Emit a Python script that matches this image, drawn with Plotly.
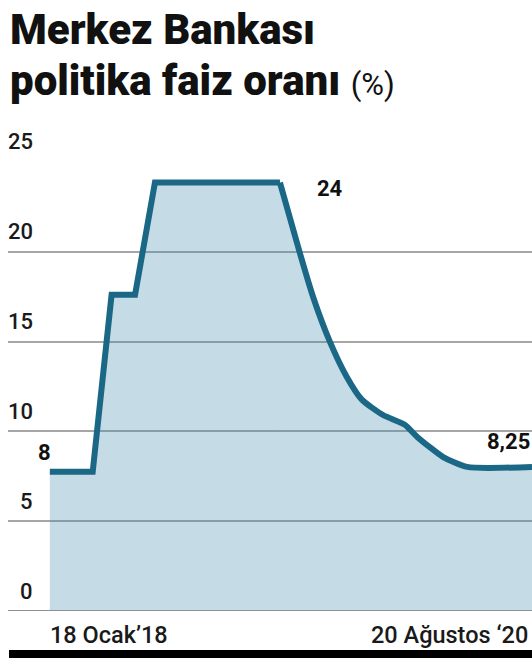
import plotly.graph_objects as go

# Data
dates = ["2018-01-18", "2018-04-12", "2018-05-19", "2018-07-04", "2018-08-12",
         "2019-04-14", "2019-05-23", "2019-06-18", "2019-07-21", "2019-08-23",
         "2019-09-22", "2019-11-02", "2019-12-15", "2020-01-08", "2020-02-28",
         "2020-04-15", "2020-08-20"]
rates = [7.75, 7.75, 17.6, 17.6, 23.85,
         23.85, 19.93, 17.48, 14.98, 13.03,
         11.75, 10.91, 10.36, 9.69, 8.57,
         8.02, 8.02]
y_ticks = [0, 5, 10, 15, 20, 25]
y_tick_labels = ["0", "5", "10", "15", "20", "25"]
x_labels = ["18 Ocak\u201918", "20 A\u011fustos \u201820"]
title_lines = ["Merkez Bankas\u0131", "politika faiz oran\u0131"]
unit = "(%)"
value_labels = ["8", "24", "8,25"]

W, H = 532, 660
L, R, T, B = 8, 0, 161, 49
PH = H - T - B
PW = W - L - R


def py(p):
    return (H - B - p) / PH


def px(p):
    return (p - L) / PW


LINE = "#1a6886"
FILL = "rgba(62,138,172,0.3)"
GRID = "#a6a6a6"

SPLIT = 5  # stepped part (straight) then the smooth decline

fig = go.Figure()
fig.add_trace(go.Scatter(
    x=dates[:SPLIT + 1], y=rates[:SPLIT + 1], mode="lines",
    line=dict(color=LINE, width=6, shape="linear"),
    fill="tozeroy", fillcolor=FILL,
    hoverinfo="skip", showlegend=False,
))
fig.add_trace(go.Scatter(
    x=dates[SPLIT:], y=rates[SPLIT:], mode="lines",
    line=dict(color=LINE, width=6, shape="spline", smoothing=0.6),
    fill="tozeroy", fillcolor=FILL,
    hoverinfo="skip", showlegend=False,
))

annotations = []
# title
annotations.append(dict(
    text=title_lines[0], xref="paper", yref="paper", x=px(8), y=py(29),
    xanchor="left", yanchor="middle", showarrow=False,
    font=dict(family="Roboto", size=42, color="#111111", weight=900)))
annotations.append(dict(
    text=title_lines[1] + " <span style='font-size:31px;font-weight:400'>" + unit + "</span>",
    xref="paper", yref="paper", x=px(8), y=py(80),
    xanchor="left", yanchor="middle", showarrow=False,
    font=dict(family="Roboto", size=42, color="#111111", weight=900)))

# y tick labels above gridlines
for v, lab in zip(y_ticks, y_tick_labels):
    annotations.append(dict(
        text=lab, xref="paper", yref="y", x=px(35), y=v,
        xanchor="right", yanchor="middle", yshift=20, showarrow=False,
        font=dict(family="Roboto", size=22, color="#1a1a1a", weight=500)))

# x labels
annotations.append(dict(
    text=x_labels[0], xref="paper", yref="paper", x=px(48), y=py(635),
    xanchor="left", yanchor="middle", showarrow=False,
    font=dict(family="Roboto", size=23.5, color="#1a1a1a", weight=500)))
annotations.append(dict(
    text=x_labels[1], xref="paper", yref="paper", x=px(530), y=py(635),
    xanchor="right", yanchor="middle", showarrow=False,
    font=dict(family="Roboto", size=23.5, color="#1a1a1a", weight=500)))

# value labels
annotations.append(dict(
    text=value_labels[0], x=dates[0], y=rates[0], xanchor="right", yanchor="middle",
    xshift=3, yshift=19, showarrow=False,
    font=dict(family="Roboto", size=22, color="#111111", weight=700)))
annotations.append(dict(
    text=value_labels[1], x=dates[8], y=rates[5], xanchor="center", yanchor="middle",
    yshift=-6, showarrow=False,
    font=dict(family="Roboto", size=22, color="#111111", weight=700)))
annotations.append(dict(
    text=value_labels[2], x=dates[-1], y=rates[-1], xanchor="right", yanchor="middle",
    xshift=0, yshift=25, showarrow=False,
    font=dict(family="Roboto", size=22, color="#111111", weight=700)))

shapes = [dict(type="rect", xref="paper", yref="paper", x0=px(9), x1=1,
               y0=py(658), y1=py(650), fillcolor="#000000", line=dict(width=0))]

fig.update_layout(
    width=W, height=H,
    margin=dict(l=L, r=R, t=T, b=B, pad=0),
    paper_bgcolor="white", plot_bgcolor="white",
    font=dict(family="Roboto", color="#111111"),
    xaxis=dict(range=["2017-10-28", "2020-08-20"], showgrid=False, zeroline=False,
               showticklabels=False, ticks="", showline=False, fixedrange=True),
    yaxis=dict(range=[0, 25.05], tickvals=y_ticks, showticklabels=False, ticks="",
               showgrid=True, gridcolor=GRID, gridwidth=1.5, zeroline=False,
               showline=False, fixedrange=True),
    annotations=annotations, shapes=shapes,
)
# baseline at zero drawn above fill
fig.add_shape(type="line", xref="paper", yref="y", x0=0, x1=1, y0=0, y1=0,
              line=dict(color="#8a9296", width=2), layer="above")

fig.write_html("out.html", config={"displayModeBar": False},
               post_script="document.body.style.margin='0';document.body.style.padding='0';document.body.style.overflow='hidden';")
